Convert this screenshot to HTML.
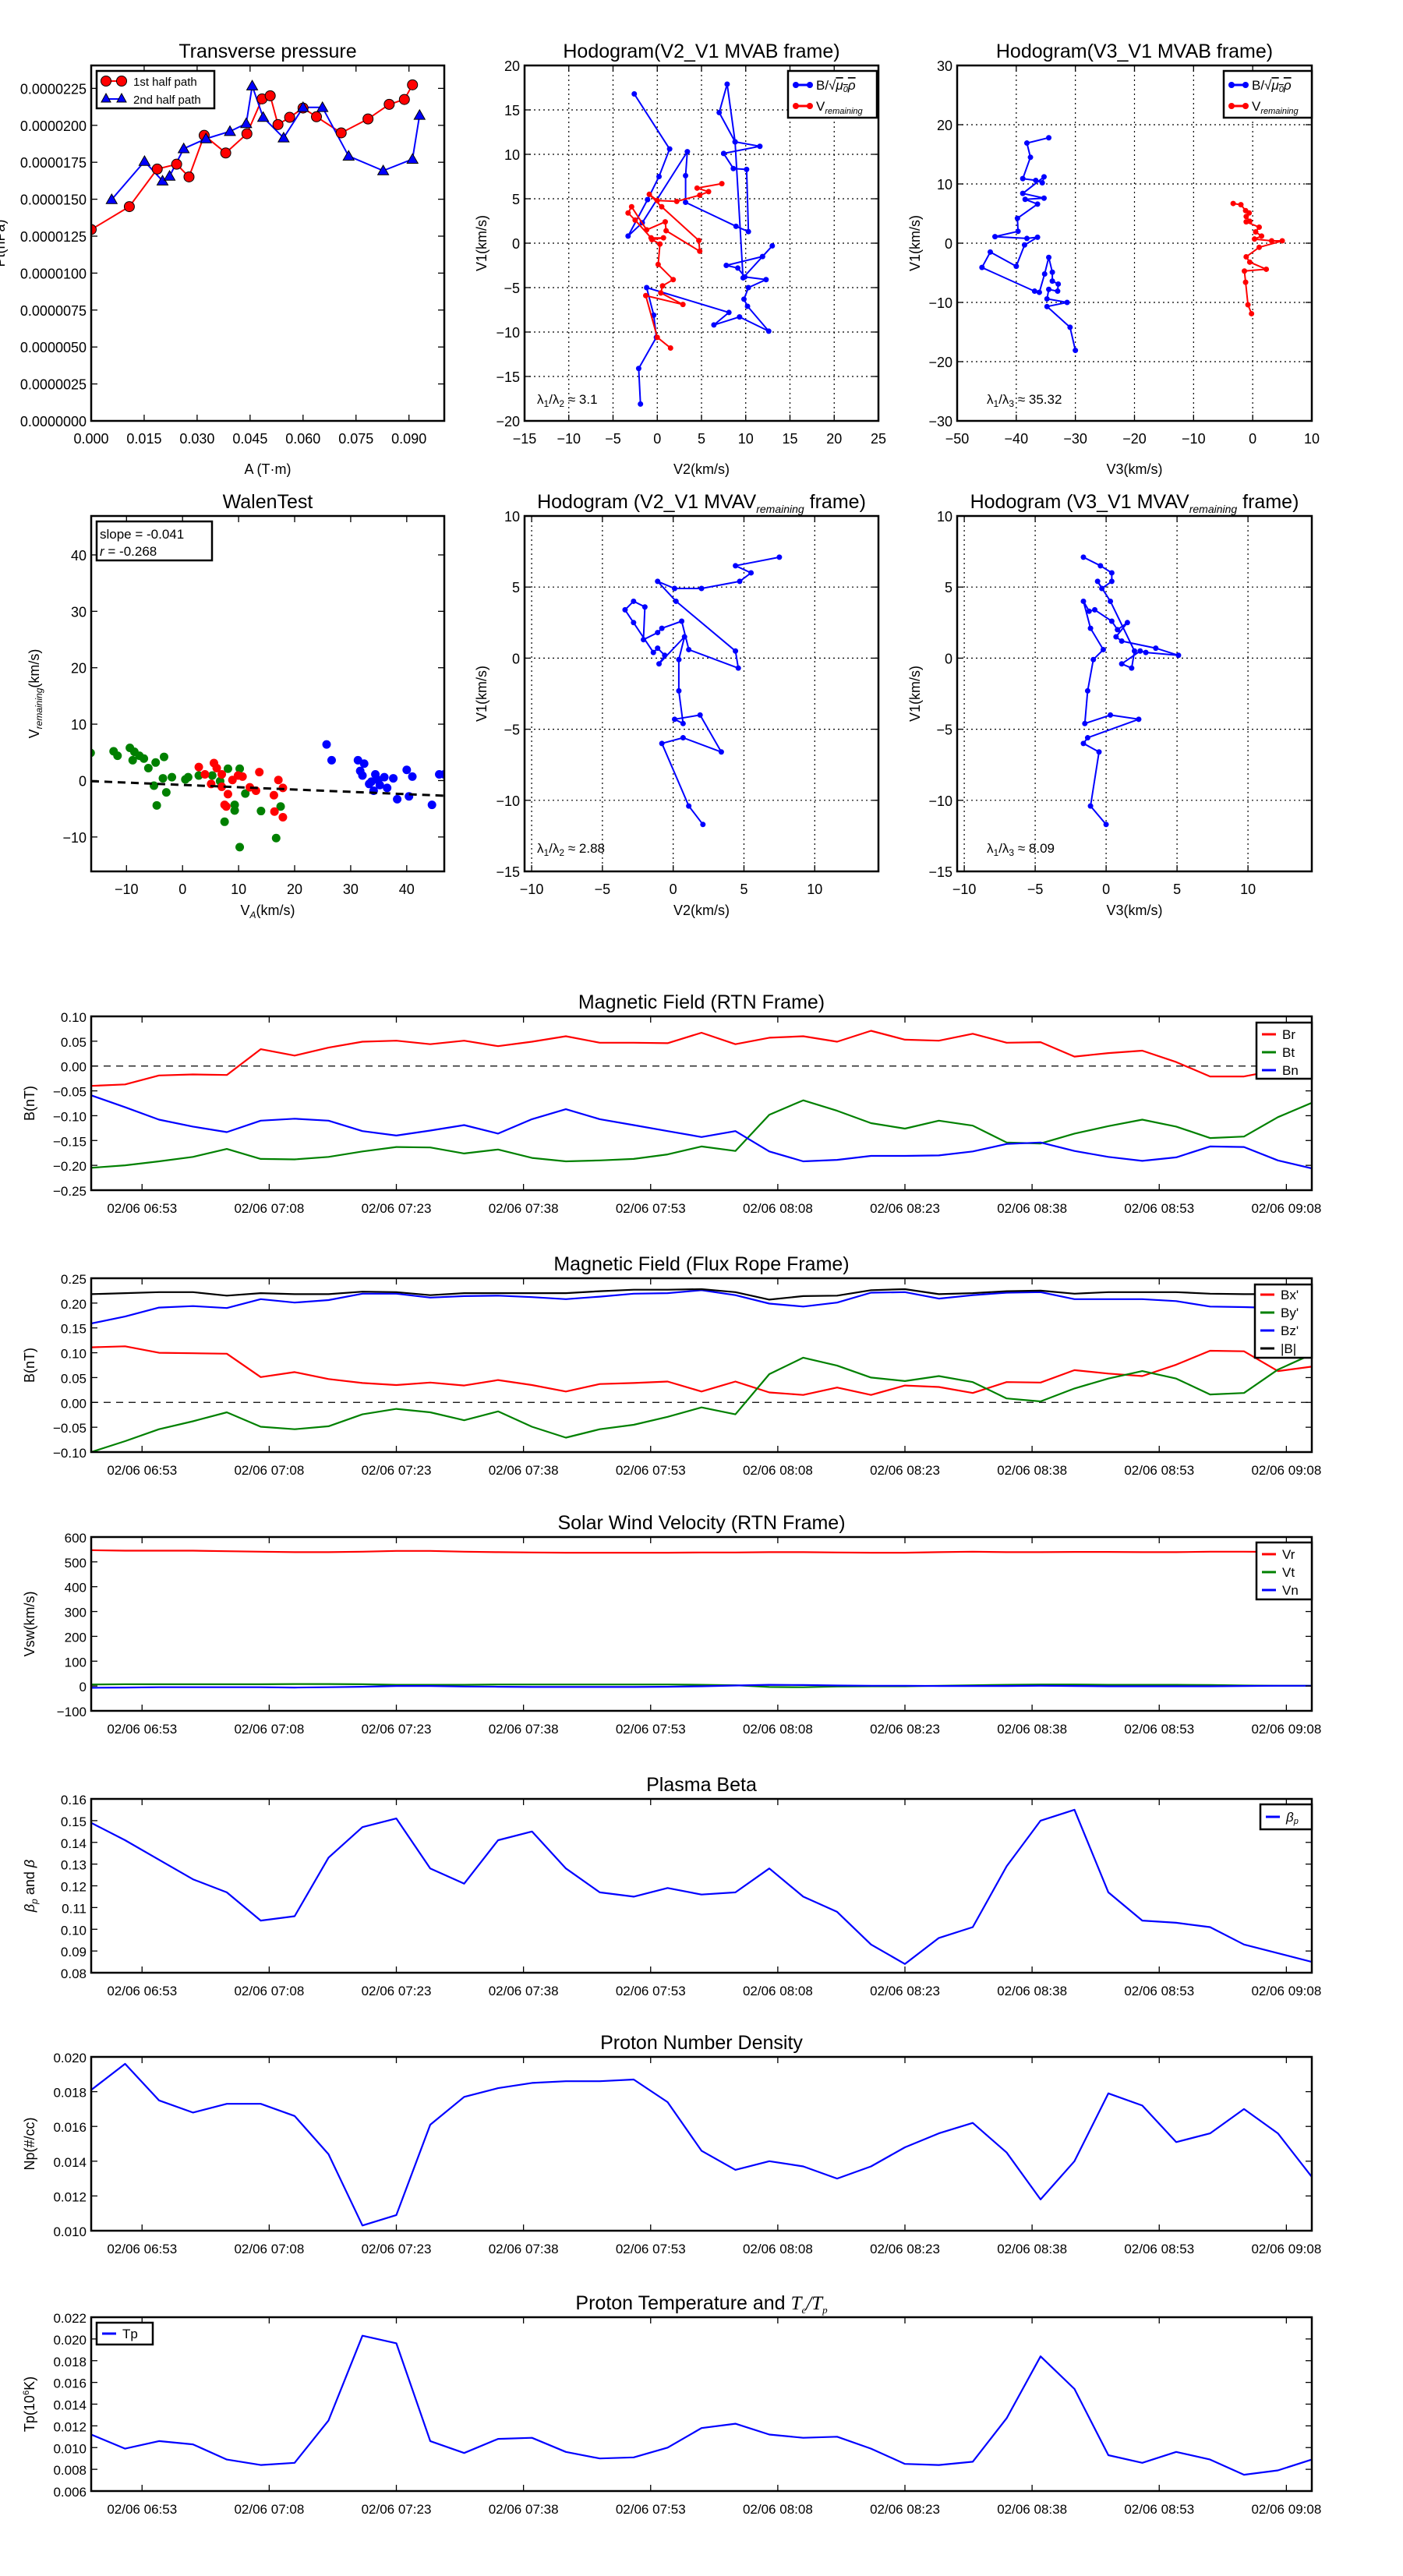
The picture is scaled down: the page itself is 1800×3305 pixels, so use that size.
<!DOCTYPE html>
<html><head><meta charset="utf-8"><style>
html,body{margin:0;padding:0;background:#fff;}
svg text{font-family:"Liberation Sans","DejaVu Sans",sans-serif;}
</style></head><body>
<svg id="fig" xmlns="http://www.w3.org/2000/svg" width="1800" height="3300" viewBox="0 0 1800 3300"><defs id="defs"></defs><rect width="1800" height="3300" fill="#fff"/></svg>
<script>
// ---------- DATA ----------
const tpA1 = [0,0.0108,0.0187,0.0242,0.0277,0.0320,0.0381,0.0441,0.0484,0.0507,0.0529,0.0562,0.0600,0.0638,0.0708,0.0784,0.0844,0.0887,0.0910];
const tpP1 = [1.295e-5,1.450e-5,1.704e-5,1.737e-5,1.651e-5,1.932e-5,1.813e-5,1.943e-5,2.179e-5,2.200e-5,2.005e-5,2.054e-5,2.117e-5,2.058e-5,1.949e-5,2.043e-5,2.142e-5,2.175e-5,2.274e-5];
const tpA2 = [0.0058,0.0151,0.0202,0.0222,0.0262,0.0325,0.0393,0.0439,0.0456,0.0487,0.0545,0.0600,0.0655,0.0729,0.0827,0.0910,0.0930];
const tpP2 = [1.498e-5,1.756e-5,1.624e-5,1.656e-5,1.842e-5,1.909e-5,1.959e-5,2.012e-5,2.267e-5,2.054e-5,1.915e-5,2.121e-5,2.121e-5,1.792e-5,1.693e-5,1.771e-5,2.068e-5];

const hbV2 = [-2.6,1.4,0.2,-1.1,-3.3,-1.7,3.4,3.2,3.2,8.9,10.3,10.1,8.6,7.5,11.6,8.8,7.0,7.9,8.8,9.7,13.0,11.9,7.8,9.1,9.9,12.3,10.3,9.8,10.2,12.6,9.3,6.4,8.1,-1.2,-0.4,-0.1,-2.1,-1.9];
const hbV1 = [16.8,10.6,7.5,4.9,0.8,2.3,10.3,7.6,4.6,1.9,1.3,8.3,8.4,10.1,10.9,11.4,14.7,17.9,11.4,-3.9,-0.3,-1.5,-2.5,-2.8,-3.8,-4.1,-5.0,-6.3,-7.1,-9.9,-8.3,-9.2,-7.8,-5.0,-8.1,-10.6,-14.1,-18.1];
const hrV2 = [7.3,4.5,5.8,4.8,2.2,0,-0.9,0.5,4.7,4.8,1.0,0.9,-1.2,-2.9,-3.3,-2.5,-0.7,0.7,-0.6,0.3,0.1,1.8,0.6,0.4,2.9,-1.3,0,1.5];
const hrV1 = [6.7,6.2,5.8,5.4,4.7,4.8,5.5,4.1,0.3,-0.9,1.4,2.4,1.5,4.1,3.4,2.6,0.6,0.6,0.4,-0.1,-2.4,-4.1,-4.8,-5.6,-6.9,-5.9,-10.6,-11.8];

const hcbV3 = [-34.5,-38.2,-37.6,-38.9,-36.7,-35.6,-35.3,-38.9,-35.3,-38.5,-36.4,-39.8,-39.7,-43.6,-38.2,-36.4,-38.6,-40.0,-44.4,-45.8,-36.9,-36.1,-35.2,-34.5,-33.9,-33.9,-32.9,-33.0,-34.5,-34.8,-31.4,-34.8,-30.9,-30.0];
const hcbV1 = [17.8,16.9,14.5,10.9,10.6,10.2,11.2,8.4,7.6,7.4,6.6,4.2,2.0,1.1,0.8,1.0,-0.3,-3.9,-1.5,-4.1,-8.1,-8.3,-5.2,-2.4,-4.9,-6.4,-6.9,-8.1,-7.8,-9.4,-10.0,-10.7,-14.2,-18.1];
const hcrV3 = [-3.3,-2.0,-1.2,-0.6,-1.1,-0.5,-1.1,1.1,0.5,1.5,0.3,3.2,5.0,1.1,-1.1,-0.5,2.3,-1.4,-1.2,-0.8,-0.2];
const hcrV1 = [6.7,6.5,5.5,5.1,4.5,3.7,3.6,2.7,1.9,1.2,0.7,0.4,0.4,-0.7,-2.3,-3.2,-4.4,-4.7,-6.6,-10.4,-11.9];

const wgX = [-16.4,-12.3,-11.6,-9.4,-8.6,-8.9,-7.7,-6.9,-6.1,-4.8,-3.3,-3.5,-5.1,-2.9,-4.6,-1.9,0.5,1,2.9,5.3,6.7,8.1,10.2,9.3,9.3,7.5,11.2,14,17.5,16.7,10.2];
const wgY = [4.9,5.2,4.4,5.8,5.1,3.6,4.4,3.9,2.2,3.2,4.2,0.4,-0.9,-2.1,-4.4,0.6,0.2,0.6,0.9,0.9,-0.1,2.1,2.1,-4.3,-5.3,-7.3,-2.3,-5.4,-4.6,-10.2,-11.8];
const wrX = [2.9,5.6,6.1,4.0,5.1,7.0,8.1,7.5,8.9,9.9,10.7,7.0,12,13.1,13.7,17.1,17.9,16.3,16.4,17.9,7.8];
const wrY = [2.4,3.1,2.2,1.1,-0.6,-1.1,-2.4,-4.3,0.1,0.9,0.7,1.1,-1.2,-1.8,1.5,0.1,-1.3,-2.6,-5.5,-6.5,-4.6];
const wbX = [25.7,26.6,31.3,32.4,31.7,32.1,33.7,34.4,35.2,36,34.1,36.5,37.6,38.3,40.0,40.4,41.0,44.5,45.8,46.7,33.3,34.9];
const wbY = [6.4,3.6,3.6,3.0,1.7,0.9,-0.2,1.1,-0.8,0.6,-1.8,-1.3,0.4,-3.3,1.9,-2.8,0.7,-4.3,1.1,1.1,-0.6,0.1];
const walenSlope = -0.041;
const walenIntercept = -0.77;

const heV2 = [7.5,4.4,5.5,4.7,2.0,0.1,-1.1,0.2,4.4,4.6,1.1,0.6,-0.8,-1.1,-2.1,-2.0,-2.8,-3.4,-2.8,-1.4,-1.1,-0.6,-1.0,0.8,0.4,0.4,0.7,0.1,1.9,3.4,0.7,-0.8,1.1,2.1];
const heV1 = [7.1,6.5,6.0,5.4,4.9,4.9,5.4,4.0,0.5,-0.7,0.6,2.6,2.1,1.8,1.3,3.6,4.0,3.4,2.5,0.4,0.7,0.2,-0.4,1.5,-0.1,-2.3,-4.6,-4.3,-4.0,-6.6,-5.6,-6.0,-10.4,-11.7];
const hfV3 = [-1.6,-0.4,0.4,0.4,-0.3,-0.6,0.3,2.0,1.8,1.1,2.4,2.8,5.1,3.5,1.1,0.7,1.5,0.8,0.4,-0.8,-1.2,-1.6,-1.1,-0.2,-0.9,-1.3,-1.5,0.3,2.3,-1.3,-1.6,-0.5,-1.1,0];
const hfV1 = [7.1,6.5,6.0,5.4,4.9,5.4,4.0,0.5,-0.7,-0.4,0.5,0.4,0.2,0.7,1.2,1.5,2.5,2.0,2.6,3.4,3.3,4.0,2.1,0.6,-0.1,-2.3,-4.6,-4.0,-4.3,-5.6,-6.0,-6.6,-10.4,-11.7];

// time series (index = 4 minute steps from 06:47)
const timeTickLabels = ['02/06 06:53','02/06 07:08','02/06 07:23','02/06 07:38','02/06 07:53','02/06 08:08','02/06 08:23','02/06 08:38','02/06 08:53','02/06 09:08'];
const timeTickMinutes = [6,21,36,51,66,81,96,111,126,141];
const Br = [-0.040,-0.037,-0.019,-0.017,-0.018,0.034,0.021,0.037,0.049,0.051,0.044,0.051,0.040,0.049,0.060,0.047,0.047,0.046,0.067,0.044,0.057,0.060,0.049,0.071,0.053,0.051,0.065,0.047,0.048,0.019,0.026,0.031,0.008,-0.021,-0.021,-0.008,0.004];
const Bt = [-0.205,-0.200,-0.192,-0.183,-0.167,-0.187,-0.188,-0.183,-0.172,-0.163,-0.164,-0.176,-0.168,-0.185,-0.192,-0.190,-0.187,-0.178,-0.162,-0.171,-0.098,-0.069,-0.090,-0.115,-0.126,-0.110,-0.120,-0.154,-0.156,-0.136,-0.121,-0.108,-0.122,-0.145,-0.142,-0.103,-0.074];
const Bn = [-0.059,-0.083,-0.108,-0.122,-0.133,-0.110,-0.106,-0.110,-0.131,-0.140,-0.130,-0.119,-0.136,-0.107,-0.087,-0.107,-0.119,-0.131,-0.143,-0.131,-0.172,-0.192,-0.189,-0.181,-0.181,-0.180,-0.172,-0.157,-0.154,-0.171,-0.183,-0.191,-0.184,-0.162,-0.163,-0.190,-0.206];
const Bx = [0.111,0.113,0.100,0.099,0.098,0.051,0.061,0.047,0.039,0.035,0.040,0.034,0.045,0.035,0.022,0.037,0.039,0.042,0.022,0.042,0.020,0.015,0.030,0.015,0.034,0.031,0.019,0.041,0.040,0.065,0.058,0.053,0.076,0.104,0.103,0.063,0.072];
const By = [-0.100,-0.078,-0.054,-0.038,-0.020,-0.049,-0.054,-0.048,-0.024,-0.013,-0.020,-0.036,-0.018,-0.049,-0.071,-0.054,-0.045,-0.029,-0.010,-0.024,0.057,0.090,0.074,0.050,0.043,0.053,0.041,0.008,0.002,0.028,0.048,0.063,0.048,0.016,0.019,0.066,0.097];
const Bz = [0.159,0.173,0.191,0.194,0.190,0.208,0.201,0.206,0.219,0.219,0.211,0.214,0.215,0.212,0.208,0.213,0.219,0.220,0.226,0.216,0.199,0.193,0.201,0.221,0.222,0.209,0.216,0.221,0.222,0.208,0.208,0.208,0.204,0.193,0.192,0.190,0.186];
const Bmag = [0.218,0.220,0.222,0.222,0.215,0.220,0.218,0.218,0.223,0.222,0.216,0.220,0.220,0.220,0.220,0.224,0.227,0.227,0.228,0.222,0.207,0.214,0.215,0.226,0.228,0.218,0.220,0.224,0.225,0.219,0.222,0.222,0.222,0.219,0.218,0.218,0.218];
const Vr = [547,545,545,545,543,541,539,539,541,544,544,541,539,538,537,537,537,537,538,538,539,539,538,537,537,539,541,539,539,540,540,539,539,541,541,540,539];
const Vt = [6,7,7,7,7,7,8,8,7,5,5,5,6,6,6,6,6,6,5,3,-4,-5,-2,-1,-1,1,3,5,6,6,5,5,5,4,2,1,1];
const Vn = [-7,-6,-5,-5,-5,-5,-6,-5,-3,0,0,-2,-3,-4,-4,-4,-4,-3,-1,2,5,4,2,1,1,0,0,0,1,0,-1,-1,-1,-1,0,1,1];
const betaP = [0.149,0.141,0.132,0.123,0.117,0.104,0.106,0.133,0.147,0.151,0.128,0.121,0.141,0.145,0.128,0.117,0.115,0.119,0.116,0.117,0.128,0.115,0.108,0.093,0.084,0.096,0.101,0.129,0.150,0.155,0.117,0.104,0.103,0.101,0.093,0.089,0.085];
const Np = [0.0181,0.0196,0.0175,0.0168,0.0173,0.0173,0.0166,0.0144,0.0103,0.0109,0.0161,0.0177,0.0182,0.0185,0.0186,0.0186,0.0187,0.0174,0.0146,0.0135,0.0140,0.0137,0.0130,0.0137,0.0148,0.0156,0.0162,0.0145,0.0118,0.0140,0.0179,0.0172,0.0151,0.0156,0.0170,0.0156,0.0131];
const Tp = [0.0112,0.0099,0.0106,0.0103,0.0089,0.0084,0.0086,0.0125,0.0203,0.0196,0.0106,0.0095,0.0108,0.0109,0.0096,0.0090,0.0091,0.0100,0.0118,0.0122,0.0112,0.0109,0.0110,0.0099,0.0085,0.0084,0.0087,0.0127,0.0184,0.0154,0.0093,0.0086,0.0096,0.0089,0.0075,0.0079,0.0089];

// ---------- HELPERS ----------
const NS='http://www.w3.org/2000/svg';
const svg=document.getElementById('fig');
const defs=document.getElementById('defs');
let clipCount=0;
function mk(tag, attrs, parent){
  const e=document.createElementNS(NS,tag);
  for(const k in attrs) e.setAttribute(k,attrs[k]);
  (parent||svg).appendChild(e);
  return e;
}
function txt(parent,x,y,s,size,anchor,extra){
  const t=mk('text',Object.assign({x:x,y:y,'font-size':size,'text-anchor':anchor||'middle',fill:'#000'},extra||{}),parent);
  t.textContent=s;
  return t;
}
function minus(s){return String(s).replace('-','\u2212');}

function axes(o){
  const g=mk('g',{});
  
  
  const sx=v=>o.x+(v-o.xmin)/(o.xmax-o.xmin)*o.w;
  const sy=v=>o.y+o.h-(v-o.ymin)/(o.ymax-o.ymin)*o.h;
  const cid='clip'+(clipCount++);
  const cp=mk('clipPath',{id:cid},defs);
  mk('rect',{x:o.x,y:o.y,width:o.w,height:o.h},cp);
  if(o.grid){
    const gg=mk('g',{stroke:'#000','stroke-width':1.2,'stroke-dasharray':'2,4'},g);
    
    
    o.xticks.forEach(t=>mk('line',{x1:sx(t),x2:sx(t),y1:o.y,y2:o.y+o.h},gg));
    o.yticks.forEach(t=>mk('line',{x1:o.x,x2:o.x+o.w,y1:sy(t),y2:sy(t)},gg));
  }
  const data=mk('g',{'clip-path':'url(#'+cid+')'},g);
  
  
  const tk=mk('g',{stroke:'#000','stroke-width':1.3},g);
  const xa=mk('g',{},g);
  
  
  const ya=mk('g',{},g);
  
  
  o.xticks.forEach((t,i)=>{
    const X=sx(t);
    mk('line',{x1:X,x2:X,y1:o.y+o.h,y2:o.y+o.h-8},tk);
    mk('line',{x1:X,x2:X,y1:o.y,y2:o.y+8},tk);
    txt(xa,X,o.y+o.h+29,o.xlabels?o.xlabels[i]:o.xfmt(t),o.tfs||18);
  });
  o.yticks.forEach(t=>{
    const Y=sy(t);
    mk('line',{x1:o.x,x2:o.x+8,y1:Y,y2:Y},tk);
    mk('line',{x1:o.x+o.w,x2:o.x+o.w-8,y1:Y,y2:Y},tk);
    txt(ya,o.x-6,Y+7,o.yfmt(t),o.tfs||18,'end');
  });
  const fr=mk('rect',{x:o.x,y:o.y,width:o.w,height:o.h,fill:'none',stroke:'#000','stroke-width':2.5},g);
  
  
  if(o.title){
    const t=txt(g,o.x+o.w/2,o.y-10,'',25);
    t.innerHTML=o.title;
    
    
  }
  if(o.xlabel){
    const t=txt(g,o.x+o.w/2,o.y+o.h+o.xlabOff,'',18);
    t.innerHTML=o.xlabel;
    
    
  }
  if(o.ylabel){
    const t=txt(g,0,0,'',18,'middle',{transform:'translate('+o.ylabX+','+(o.y+o.h/2)+') rotate(-90)'});
    t.innerHTML=o.ylabel;
    
    
  }
  return {sx,sy,g,data,o};
}
function polyline(ax,xs,ys,color,w,extra){
  const pts=xs.map((x,i)=>ax.sx(x).toFixed(1)+','+ax.sy(ys[i]).toFixed(1)).join(' ');
  return mk('polyline',Object.assign({points:pts,fill:'none',stroke:color,'stroke-width':w||2,'stroke-linejoin':'round'},extra||{}),ax.data);
}
function dots(ax,xs,ys,color,r,stroke){
  const g=mk('g',{fill:color},ax.data);
  xs.forEach((x,i)=>mk('circle',{cx:ax.sx(x),cy:ax.sy(ys[i]),r:r,stroke:stroke||'none','stroke-width':1},g));
  return g;
}
function tris(ax,xs,ys,color,s){
  const g=mk('g',{fill:color,stroke:'#000','stroke-width':1},ax.data);
  xs.forEach((x,i)=>{const X=ax.sx(x),Y=ax.sy(ys[i]);
    mk('polygon',{points:(X)+','+(Y-s)+' '+(X+s)+','+(Y+s*0.75)+' '+(X-s)+','+(Y+s*0.75)},g);});
  return g;
}
function legendBox(ax,x,y,w,h){
  const g=mk('g',{},ax.g);
  
  
  mk('rect',{x:x,y:y,width:w,height:h,fill:'#fff',stroke:'#000','stroke-width':2.5},g);
  return g;
}
function lineEntry(g,x,y,color,label,withDots){
  mk('line',{x1:x,x2:x+18,y1:y,y2:y,stroke:color,'stroke-width':3},g);
  if(withDots){mk('circle',{cx:x,cy:y,r:4,fill:color},g);mk('circle',{cx:x+18,cy:y,r:4,fill:color},g);}
  const t=txt(g,x+26,y+6,'',17,'start');
  t.innerHTML=label;
  return t;
}

// ---------- ROW 1 ----------
const axA=axes({name:'transverse-pressure-chart',x:117,y:84,w:453,h:456,xmin:0,xmax:0.1,ymin:0,ymax:2.405e-5,
  xticks:[0,0.015,0.03,0.045,0.06,0.075,0.09],yticks:[0,2.5e-6,5e-6,7.5e-6,1e-5,1.25e-5,1.5e-5,1.75e-5,2e-5,2.25e-5],
  xfmt:t=>t.toFixed(3),yfmt:t=>t.toFixed(7),title:'Transverse pressure',xlabel:'A (T·m)',xlabOff:68,ylabel:'Pt(nPa)',ylabX:6});
polyline(axA,tpA1,tpP1,'#f00',2);
polyline(axA,tpA2,tpP2,'#00f',2);
dots(axA,tpA1,tpP1,'#f00',6.5,'#000');
tris(axA,tpA2,tpP2,'#00f',7);
{const lg=legendBox(axA,124,91,151,48);
 mk('line',{x1:136,x2:156,y1:104,y2:104,stroke:'#f00','stroke-width':2},lg);
 mk('circle',{cx:136,cy:104,r:6.5,fill:'#f00',stroke:'#000'},lg);mk('circle',{cx:156,cy:104,r:6.5,fill:'#f00',stroke:'#000'},lg);
 txt(lg,171,110,'1st half path',15,'start');
 mk('line',{x1:136,x2:156,y1:127,y2:127,stroke:'#00f','stroke-width':2},lg);
 mk('polygon',{points:'136,120 142,131 130,131',fill:'#00f',stroke:'#000'},lg);
 mk('polygon',{points:'156,120 162,131 150,131',fill:'#00f',stroke:'#000'},lg);
 txt(lg,171,133,'2nd half path',15,'start');}

const lamB='λ<tspan font-size="12" dy="4">1</tspan><tspan dy="-4">/λ</tspan><tspan font-size="12" dy="4">2</tspan><tspan dy="-4"> ≈ </tspan>';
const axB=axes({name:'hodogram-v2-v1-mvab',x:673,y:84,w:454,h:456,xmin:-15,xmax:25,ymin:-20,ymax:20,grid:true,
  xticks:[-15,-10,-5,0,5,10,15,20,25],yticks:[-20,-15,-10,-5,0,5,10,15,20],xfmt:t=>minus(t),yfmt:t=>minus(t),
  title:'Hodogram(V2_V1 MVAB frame)',xlabel:'V2(km/s)',xlabOff:68,ylabel:'V1(km/s)',ylabX:624});
polyline(axB,hbV2,hbV1,'#00f',2);dots(axB,hbV2,hbV1,'#00f',3.5);
polyline(axB,hrV2,hrV1,'#f00',2);dots(axB,hrV2,hrV1,'#f00',3.5);
{const lg=legendBox(axB,1011,91,114,60);
 lineEntry(lg,1021,109,'#00f','B/√<tspan text-decoration="overline" font-style="italic">μ<tspan font-size="11" dy="3">0</tspan><tspan dy="-3">ρ</tspan></tspan>',true);
 lineEntry(lg,1021,136,'#f00','V<tspan font-size="11" dy="4" font-style="italic">remaining</tspan>',true);}
{const t=txt(axB.g,689,518,'',17,'start');t.innerHTML=lamB+'3.1';
 
 }

const axC=axes({name:'hodogram-v3-v1-mvab',x:1228,y:84,w:455,h:456,xmin:-50,xmax:10,ymin:-30,ymax:30,grid:true,
  xticks:[-50,-40,-30,-20,-10,0,10],yticks:[-30,-20,-10,0,10,20,30],xfmt:t=>minus(t),yfmt:t=>minus(t),
  title:'Hodogram(V3_V1 MVAB frame)',xlabel:'V3(km/s)',xlabOff:68,ylabel:'V1(km/s)',ylabX:1180});
polyline(axC,hcbV3,hcbV1,'#00f',2);dots(axC,hcbV3,hcbV1,'#00f',3.5);
polyline(axC,hcrV3,hcrV1,'#f00',2);dots(axC,hcrV3,hcrV1,'#f00',3.5);
{const lg=legendBox(axC,1570,91,113,60);
 lineEntry(lg,1580,109,'#00f','B/√<tspan text-decoration="overline" font-style="italic">μ<tspan font-size="11" dy="3">0</tspan><tspan dy="-3">ρ</tspan></tspan>',true);
 lineEntry(lg,1580,136,'#f00','V<tspan font-size="11" dy="4" font-style="italic">remaining</tspan>',true);}
{const t=txt(axC.g,1266,518,'',17,'start');t.innerHTML=lamB.replace('>2<','>3<')+'35.32';
 
 }

// ---------- ROW 2 ----------
const axD=axes({name:'walen-test-chart',x:117,y:662,w:453,h:456,xmin:-16.3,xmax:46.7,ymin:-16.1,ymax:46.9,
  xticks:[-10,0,10,20,30,40],yticks:[-10,0,10,20,30,40],xfmt:t=>minus(t),yfmt:t=>minus(t),
  title:'WalenTest',xlabel:'V<tspan font-size="12" dy="4" font-style="italic">A</tspan><tspan dy="-4">(km/s)</tspan>',xlabOff:56,
  ylabel:'V<tspan font-size="12" dy="4" font-style="italic">remaining</tspan><tspan dy="-4">(km/s)</tspan>',ylabX:50});
dots(axD,wgX,wgY,'#008000',5.5);
dots(axD,wrX,wrY,'#f00',5.5);
dots(axD,wbX,wbY,'#00f',5.5);
{const fx=[-16.3,46.7];
 polyline(axD,fx,fx.map(x=>walenSlope*x+walenIntercept),'#000',3,{'stroke-dasharray':'10,7'});}
{const lg=legendBox(axD,124,669,148,50);
 txt(lg,128,691,'slope = -0.041',17,'start');
 const t=txt(lg,128,713,'',17,'start');t.innerHTML='<tspan font-style="italic">r</tspan> = -0.268';}

const axE=axes({name:'hodogram-v2-v1-mvav',x:673,y:662,w:454,h:456,xmin:-10.5,xmax:14.5,ymin:-15,ymax:10,grid:true,
  xticks:[-10,-5,0,5,10],yticks:[-15,-10,-5,0,5,10],xfmt:t=>minus(t),yfmt:t=>minus(t),
  title:'Hodogram (V2_V1 MVAV<tspan font-size="14" dy="6" font-style="italic">remaining</tspan><tspan dy="-6"> frame)</tspan>',xlabel:'V2(km/s)',xlabOff:56,ylabel:'V1(km/s)',ylabX:624});
polyline(axE,heV2,heV1,'#00f',2);dots(axE,heV2,heV1,'#00f',3.5);
{const t=txt(axE.g,689,1094,'',17,'start');t.innerHTML=lamB+'2.88';
 
 }

const axF=axes({name:'hodogram-v3-v1-mvav',x:1228,y:662,w:455,h:456,xmin:-10.5,xmax:14.5,ymin:-15,ymax:10,grid:true,
  xticks:[-10,-5,0,5,10],yticks:[-15,-10,-5,0,5,10],xfmt:t=>minus(t),yfmt:t=>minus(t),
  title:'Hodogram (V3_V1 MVAV<tspan font-size="14" dy="6" font-style="italic">remaining</tspan><tspan dy="-6"> frame)</tspan>',xlabel:'V3(km/s)',xlabOff:56,ylabel:'V1(km/s)',ylabX:1180});
polyline(axF,hfV3,hfV1,'#00f',2);dots(axF,hfV3,hfV1,'#00f',3.5);
{const t=txt(axF.g,1266,1094,'',17,'start');t.innerHTML=lamB.replace('>2<','>3<')+'8.09';
 
 }

// ---------- TIME SERIES ----------
function tsAxes(name,top,ymin,ymax,step,dec,title,ylabel){
  const yt=[];for(let v=ymin;v<=ymax+step/2;v+=step)yt.push(+v.toFixed(6));
  return axes({name:name,x:117,y:top,w:1566,h:223,xmin:0,xmax:144,ymin:ymin,ymax:ymax,
    xticks:timeTickMinutes,xlabels:timeTickLabels,yticks:yt,yfmt:t=>minus(t.toFixed(dec)),tfs:17,
    title:title,ylabel:ylabel,ylabX:44});
}
function tsLine(ax,vals,color){
  return polyline(ax,vals.map((v,i)=>i*4),vals,color,2.2);
}
function zeroLine(ax){
  const l=mk('line',{x1:ax.o.x,x2:ax.o.x+ax.o.w,y1:ax.sy(0),y2:ax.sy(0),stroke:'#000','stroke-width':1.3,'stroke-dasharray':'9,7'},ax.data);
  
  
}
const ax1=tsAxes('magnetic-field-rtn-chart',1304,-0.25,0.10,0.05,2,'Magnetic Field (RTN Frame)','B(nT)');
zeroLine(ax1);
tsLine(ax1,Br,'#f00');
tsLine(ax1,Bt,'#008000');
tsLine(ax1,Bn,'#00f');
{const lg=legendBox(ax1,1612,1312,71,72);lineEntry(lg,1619,1327,'#f00','Br');lineEntry(lg,1619,1350,'#008000','Bt');lineEntry(lg,1619,1373,'#00f','Bn');}

const ax2=tsAxes('magnetic-field-flux-rope-chart',1640,-0.10,0.25,0.05,2,'Magnetic Field (Flux Rope Frame)','B(nT)');
zeroLine(ax2);
tsLine(ax2,Bx,'#f00');
tsLine(ax2,By,'#008000');
tsLine(ax2,Bz,'#00f');
tsLine(ax2,Bmag,'#000');
{const lg=legendBox(ax2,1610,1648,73,94);lineEntry(lg,1617,1661,'#f00',"Bx'");lineEntry(lg,1617,1684,'#008000',"By'");lineEntry(lg,1617,1707,'#00f',"Bz'");lineEntry(lg,1617,1730,'#000','|B|');}

const ax3=tsAxes('solar-wind-velocity-chart',1972,-100,600,100,0,'Solar Wind Velocity (RTN Frame)','Vsw(km/s)');
tsLine(ax3,Vr,'#f00');
tsLine(ax3,Vt,'#008000');
tsLine(ax3,Vn,'#00f');
{const lg=legendBox(ax3,1612,1979,71,73);lineEntry(lg,1619,1994,'#f00','Vr');lineEntry(lg,1619,2017,'#008000','Vt');lineEntry(lg,1619,2040,'#00f','Vn');}

const ax4=tsAxes('plasma-beta-chart',2308,0.08,0.16,0.01,2,'Plasma Beta','<tspan font-style="italic">β<tspan font-size="12" dy="4">p</tspan></tspan><tspan dy="-4"> and </tspan><tspan font-style="italic">β</tspan>');
tsLine(ax4,betaP,'#00f');
{const lg=legendBox(ax4,1617,2315,66,32);const t=lineEntry(lg,1624,2331,'#00f','<tspan font-style="italic">β<tspan font-size="11" dy="3">p</tspan></tspan>');}

const ax5=tsAxes('proton-density-chart',2639,0.010,0.020,0.002,3,'Proton Number Density','Np(#/cc)');
tsLine(ax5,Np,'#00f');

const ax6=tsAxes('proton-temperature-chart',2973,0.006,0.022,0.002,3,'Proton Temperature and <tspan font-style="italic" font-family="Liberation Serif">T<tspan font-size="13" dy="5">e</tspan><tspan dy="-5">/T</tspan><tspan font-size="13" dy="5">p</tspan></tspan>','Tp(10<tspan font-size="11" dy="-7">6</tspan><tspan dy="7">K)</tspan>');
tsLine(ax6,Tp,'#00f');
{const lg=legendBox(ax6,124,2980,72,28);lineEntry(lg,131,2994,'#00f','Tp');}
</script>
</body></html>
